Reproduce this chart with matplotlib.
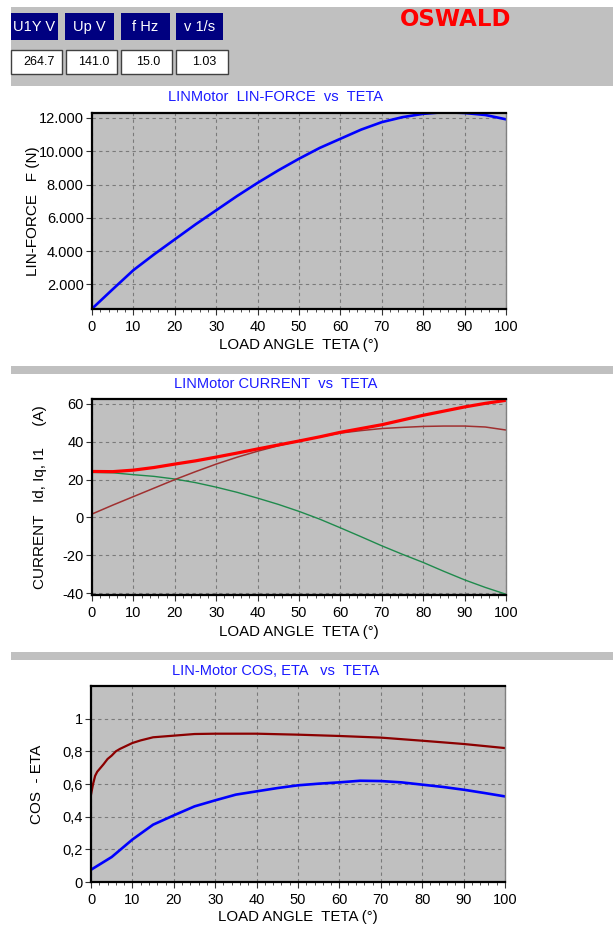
import matplotlib
matplotlib.use("Agg")
import matplotlib.pyplot as plt
from matplotlib.patches import Rectangle
from matplotlib.ticker import FuncFormatter, MultipleLocator

plt.rcParams['font.family'] = ['Liberation Sans', 'DejaVu Sans']

# header values
header_labels = ["U1Y V", "Up V", "f Hz", "v 1/s"]
header_values = ["264.7", "141.0", "15.0", "1.03"]

# load angle (deg)
theta = [0, 5, 10, 15, 20, 25, 30, 35, 40, 45, 50, 55, 60, 65, 70, 75, 80, 85, 90, 95, 100]

# linear force (N)
force = [530, 1700, 2850, 3800, 4700, 5600, 6450, 7300, 8100, 8850, 9550,
         10200, 10750, 11300, 11750, 12050, 12250, 12350, 12300, 12180, 11920]

# currents (A)
i1 = [24.3, 24.2, 25.0, 26.4, 28.2, 29.9, 31.9, 34.0, 36.2, 38.3, 40.4,
      42.6, 45.0, 47.0, 49.0, 51.5, 54.0, 56.2, 58.4, 60.3, 61.9]
iq = [1.8, 6.5, 11.0, 15.5, 20.0, 24.2, 28.2, 31.8, 35.0, 37.9, 40.4,
      42.6, 44.6, 45.9, 47.0, 47.6, 48.1, 48.3, 48.3, 47.8, 46.2]
id_ = [23.8, 23.6, 22.6, 21.7, 20.3, 18.4, 16.0, 13.3, 10.2, 6.9, 3.2,
       -0.9, -5.5, -10.2, -15.0, -19.5, -23.8, -28.5, -33.0, -37.0, -40.6]

# cos / eta
theta_c = [0, 0.5, 1, 1.5, 2, 3, 4, 5, 6, 7, 8, 10, 12, 15, 20, 25, 30, 40, 50, 60, 70, 80, 90, 100]
cos_curve = [0.535, 0.60, 0.65, 0.675, 0.69, 0.72, 0.753, 0.774, 0.80, 0.815, 0.827, 0.851,
             0.867, 0.886, 0.896, 0.906, 0.908, 0.908, 0.902, 0.894, 0.884, 0.865, 0.845, 0.82]
eta_curve = [0.075, 0.153, 0.26, 0.351, 0.408, 0.463, 0.50, 0.535, 0.555, 0.575, 0.592,
             0.602, 0.61, 0.62, 0.618, 0.61, 0.596, 0.582, 0.565, 0.545, 0.524]

W, H = 613, 927
fig = plt.figure(figsize=(W / 100, H / 100), dpi=100)


def fx(x):
    return x / W


def fy(y):
    return 1 - y / H


def rect(x0, y0, x1, y1, **kw):
    fig.add_artist(Rectangle((fx(x0), fy(y1)), fx(x1 - x0), (y1 - y0) / H,
                             transform=fig.transFigure, **kw))


# header panel
rect(11, 7, 613, 86, facecolor='#c0c0c0', edgecolor='none')
btn_x = [(11, 58), (65, 114), (121, 170), (176, 223)]
val_x = [(11, 62), (66, 117), (121, 172), (176, 228)]
for (a, b), lab in zip(btn_x, header_labels):
    rect(a, 13, b, 40, facecolor='#000080', edgecolor='none')
    fig.text(fx((a + b) / 2), fy(27), lab, color='white', fontsize=10.5,
             ha='center', va='center')
for (a, b), v in zip(val_x, header_values):
    rect(a, 50, b, 74, facecolor='white', edgecolor='#404040', linewidth=1)
    fig.text(fx((a + b) / 2 + 2), fy(62), v, color='black', fontsize=9,
             ha='center', va='center')
fig.text(fx(456), fy(20), "OSWALD", color='#ff0000', fontsize=16.5,
         fontweight='bold', family='DejaVu Sans', ha='center', va='center')

# separator bars
rect(11, 366, 613, 374, facecolor='#c0c0c0', edgecolor='none')
rect(11, 652, 613, 660, facecolor='#c0c0c0', edgecolor='none')


def setup(ax, ylim, yticks, fmt, title, title_y, ylabel, ylabel_x, xlabel):
    ax.set_facecolor('#c0c0c0')
    ax.set_xlim(0, 100)
    ax.set_ylim(*ylim)
    ax.set_xticks(range(0, 101, 10))
    ax.xaxis.set_minor_locator(MultipleLocator(2))
    ax.set_yticks(yticks)
    ax.yaxis.set_major_formatter(FuncFormatter(fmt))
    ax.grid(True, which='major', color='#7a7a7a', linestyle=(0, (3, 3)), linewidth=0.8)
    ax.tick_params(axis='both', which='major', direction='out', length=4,
                   labelsize=10.5, pad=2, color='#333333')
    ax.tick_params(axis='x', which='major', pad=4)
    ax.tick_params(axis='x', which='minor', direction='out', length=2.5, color='#333333')
    for s in ['left', 'top', 'bottom']:
        ax.spines[s].set_linewidth(1.6)
        ax.spines[s].set_color('black')
    ax.spines['right'].set_color('#808080')
    ax.spines['right'].set_linewidth(1)
    fig.text(fx(276), fy(title_y), title, color='#1a1aff', fontsize=10.5,
             ha='center', va='center')
    ax.text(ylabel_x, 0.5, ylabel, transform=ax.transAxes, rotation=90,
            fontsize=11, ha='center', va='center')
    ax.text(0.5, xlabel, "LOAD ANGLE  TETA (°)", transform=ax.transAxes,
            fontsize=10.8, ha='center', va='center')


# plot 1: force
ax1 = fig.add_axes([fx(92), fy(309), fx(414), 196 / H])
ax1.plot(theta, force, color='#0000ff', linewidth=1.9)
setup(ax1, (514, 12300), range(2000, 12001, 2000),
      lambda v, p: f"{v:,.0f}".replace(",", "."),
      "LINMotor  LIN-FORCE  vs  TETA", 97,
      "LIN-FORCE   F (N)", (33 - 92) / 414, -(345 - 309) / 196)

# plot 2: current
ax2 = fig.add_axes([fx(92), fy(595), fx(414), 196 / H])
ax2.plot(theta, id_, color='#1f8a4c', linewidth=1.0)
ax2.plot(theta, iq, color='#a03030', linewidth=1.1)
ax2.plot(theta, i1, color='#ff0000', linewidth=2.3)
setup(ax2, (-41, 62.6), range(-40, 61, 20),
      lambda v, p: f"{v:.0f}",
      "LINMotor CURRENT  vs  TETA", 384,
      "CURRENT   Id, Iq, I1     (A)", (40 - 92) / 414, -(632 - 595) / 196)

# plot 3: cos / eta
ax3 = fig.add_axes([fx(91), fy(882), fx(414), 196 / H])
ax3.plot(theta_c, cos_curve, color='#8b0000', linewidth=1.6)
ax3.plot(theta, eta_curve, color='#0000ff', linewidth=1.9)
setup(ax3, (0, 1.2), [0, 0.2, 0.4, 0.6, 0.8, 1.0],
      lambda v, p: ("0" if v == 0 else ("1" if v == 1 else f"{v:.1f}".replace(".", ","))),
      "LIN-Motor COS, ETA   vs  TETA", 671,
      "COS  - ETA", (37 - 91) / 414, -(917 - 882) / 196)

fig.savefig("out.png", dpi=100)
